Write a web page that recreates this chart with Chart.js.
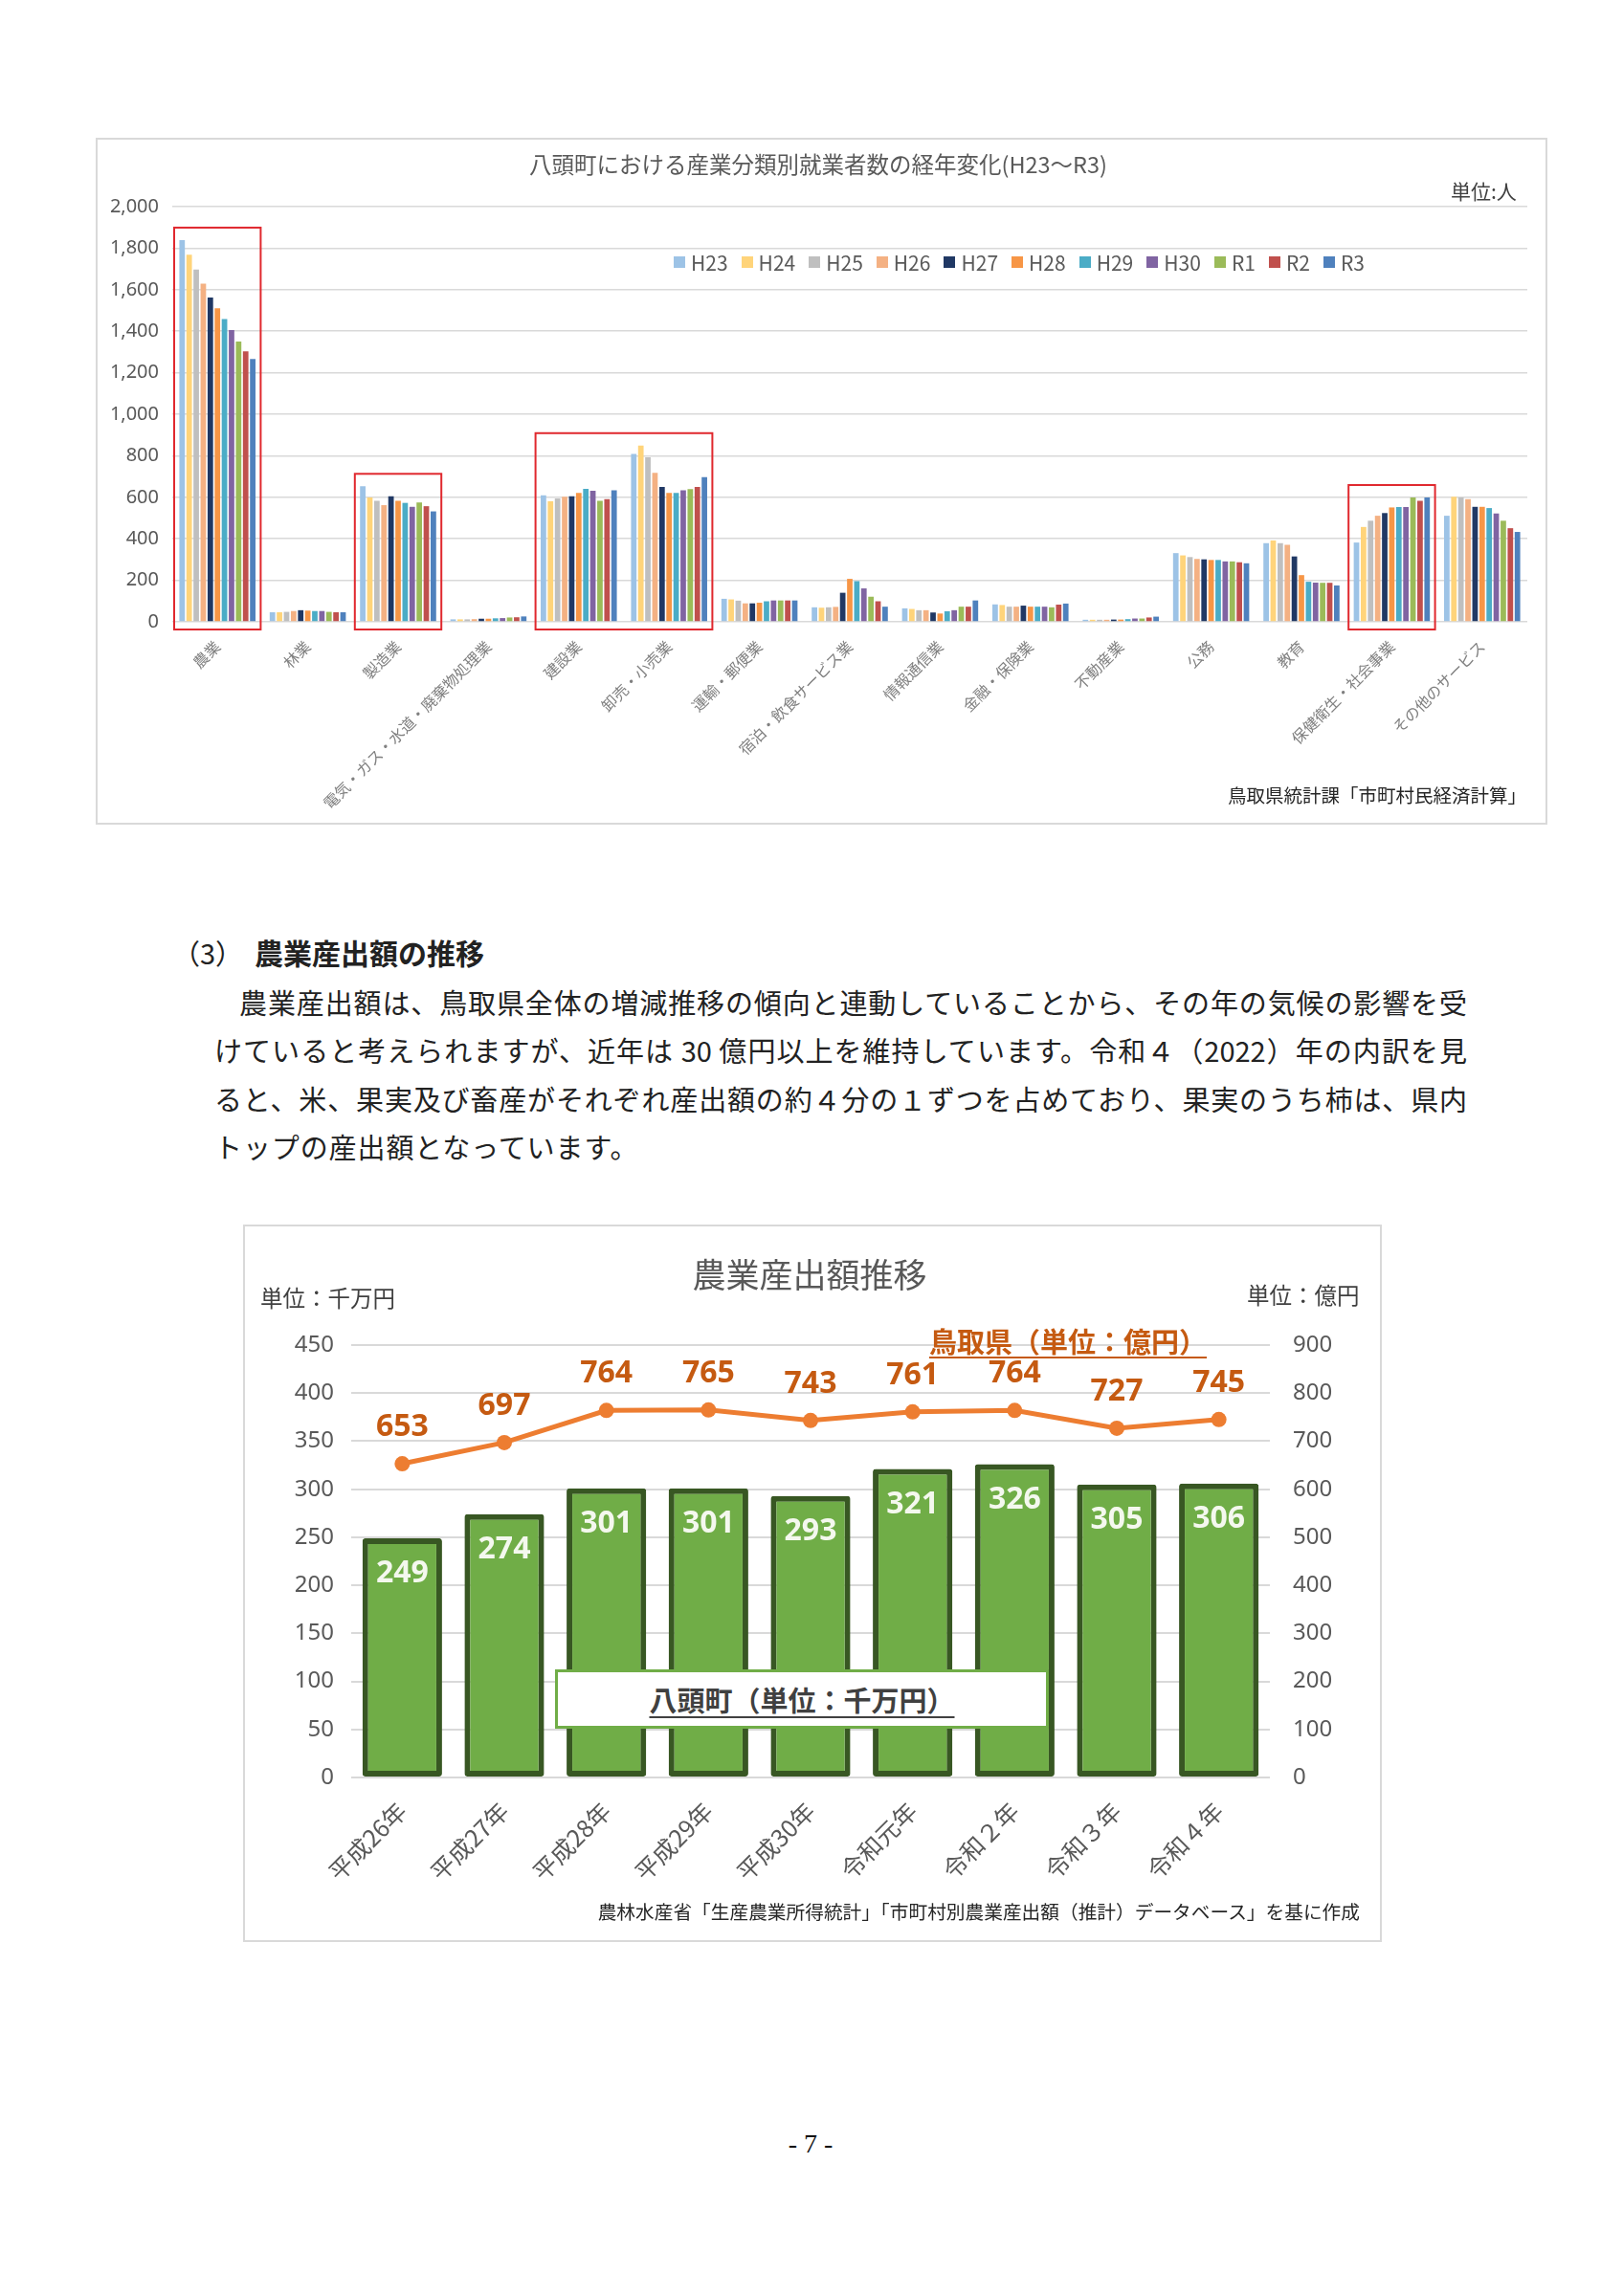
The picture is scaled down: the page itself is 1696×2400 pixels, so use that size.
<!DOCTYPE html>
<html lang="ja">
<head>
<meta charset="utf-8">
<script src="https://cdn.jsdelivr.net/npm/chart.js@4.4.1/dist/chart.umd.min.js"></script>
<style>
  body { margin: 0; background: #fff; }
  #page { position: relative; width: 1696px; height: 2400px; font-family: "Noto Sans CJK JP", sans-serif; color: #222; }
  .abs { position: absolute; white-space: nowrap; }
  .box { position: absolute; box-sizing: border-box; border: 2px solid #d9d9d9; }
  .wrap { position: absolute; }
  .legend { display: flex; align-items: center; font-size: 21px; color: #595959; }
  .legend span.item { display: flex; align-items: center; margin-right: 14px; }
  .legend i { display: inline-block; width: 12px; height: 12px; margin-right: 6px; }
  .line { position: absolute; font-size: 29px; line-height: 40px; height: 40px; text-align: justify; text-align-last: justify; white-space: nowrap; }
</style>
</head>
<body>
<div id="page">

  <!-- 就業者数グラフ -->
  <div class="box" style="left:100px;top:144px;width:1517px;height:718px"></div>
  <div class="wrap" style="left:102px;top:146px;width:1513px;height:714px"><canvas id="emp"></canvas></div>
  <div class="abs" style="left:535px;top:154px;width:640px;text-align:center;font-size:23.5px;color:#595959">八頭町における産業分類別就業者数の経年変化(H23～R3)</div>
  <div class="abs" style="left:1516px;top:184px;font-size:21px;color:#404040">単位:人</div>
  <div class="abs legend" id="legend" style="left:704px;top:261px;height:26px"></div>
  <div class="abs" style="left:1283px;top:816px;font-size:19.5px;color:#262626">鳥取県統計課「市町村民経済計算」</div>

  <!-- 本文 -->
  <div class="abs" style="left:180px;top:975px;font-size:29px;line-height:40px">（3）</div>
  <div class="abs" style="left:266px;top:975px;font-size:30px;line-height:40px;font-weight:bold">農業産出額の推移</div>
  <div class="line" style="left:250px;top:1027px;width:1283px">農業産出額は、鳥取県全体の増減推移の傾向と連動していることから、その年の気候の影響を受</div>
  <div class="line" style="left:224px;top:1077px;width:1309px">けていると考えられますが、近年は 30 億円以上を維持しています。令和４（2022）年の内訳を見</div>
  <div class="line" style="left:224px;top:1128px;width:1309px">ると、米、果実及び畜産がそれぞれ産出額の約４分の１ずつを占めており、果実のうち柿は、県内</div>
  <div class="abs" style="left:224px;top:1178px;font-size:29px;line-height:40px;letter-spacing:0.9px">トップの産出額となっています。</div>

  <!-- 農業産出額グラフ -->
  <div class="box" style="left:254px;top:1280px;width:1190px;height:750px"></div>
  <div class="wrap" style="left:256px;top:1282px;width:1186px;height:746px"><canvas id="agri"></canvas></div>
  <div class="abs" style="left:646px;top:1305px;width:400px;text-align:center;font-size:35px;color:#595959">農業産出額推移</div>
  <div class="abs" style="left:272px;top:1339px;font-size:23.5px;color:#404040">単位：千万円</div>
  <div class="abs" style="left:1303px;top:1336px;font-size:23.5px;color:#404040">単位：億円</div>
  <div class="abs" style="left:971px;top:1380px;font-size:29px;font-weight:bold;color:#c55a11;text-decoration:underline;text-underline-offset:4px">鳥取県（単位：億円）</div>
  <div class="abs" style="left:580px;top:1745px;width:516px;height:62px;box-sizing:border-box;border:3px solid #70ad47;background:#fff;text-align:center;font-size:29px;font-weight:bold;line-height:56px;color:#404040"><span style="text-decoration:underline;text-underline-offset:5px">八頭町（単位：千万円）</span></div>
  <div class="abs" style="right:275px;top:1983px;font-size:19.7px;color:#262626">農林水産省「生産農業所得統計」「市町村別農業産出額（推計）データベース」を基に作成</div>

  <div class="abs" style="left:747px;top:2225px;width:200px;text-align:center;font-family:'Liberation Serif',serif;font-size:28px;color:#111">- 7 -</div>
</div>

<script>
// 就業者数（人）
const industries = ["農業", "林業", "製造業", "電気・ガス・水道・廃棄物処理業", "建設業", "卸売・小売業", "運輸・郵便業",
  "宿泊・飲食サービス業", "情報通信業", "金融・保険業", "不動産業", "公務", "教育", "保健衛生・社会事業", "その他のサービス"];
const years = ["H23", "H24", "H25", "H26", "H27", "H28", "H29", "H30", "R1", "R2", "R3"];
const h23 = [1839, 46, 653, 12, 610, 809, 111, 70, 65, 84, 10, 331, 379, 382, 511];
const h24 = [1768, 46, 599, 12, 581, 849, 108, 68, 62, 81, 10, 320, 392, 457, 602];
const h25 = [1697, 48, 583, 12, 594, 793, 102, 70, 56, 73, 10, 312, 379, 487, 599];
const h26 = [1629, 52, 562, 13, 602, 718, 89, 72, 56, 73, 10, 303, 371, 511, 591];
const h27 = [1562, 56, 605, 15, 605, 650, 89, 140, 45, 78, 11, 301, 315, 524, 554];
const h28 = [1510, 54, 583, 15, 621, 621, 92, 207, 40, 73, 11, 298, 225, 551, 554];
const h29 = [1459, 52, 573, 17, 640, 621, 99, 196, 51, 73, 13, 298, 193, 553, 548];
const h30 = [1406, 52, 554, 18, 631, 634, 103, 161, 56, 73, 16, 291, 189, 553, 522];
const r1 = [1350, 48, 575, 21, 583, 639, 103, 121, 73, 70, 16, 291, 188, 599, 487];
const r2 = [1303, 46, 557, 22, 591, 650, 103, 99, 73, 83, 21, 287, 188, 583, 451];
const r3 = [1266, 46, 532, 26, 634, 697, 103, 73, 103, 88, 25, 282, 175, 599, 433];
const yearColors = ["#9dc3e6", "#ffd47a", "#bfbfbf", "#f4b183", "#203864", "#f79646", "#4bacc6", "#8064a2", "#9bbb59", "#c0504d", "#4f81bd"];
// 赤枠で囲む業種（先頭・末尾のインデックス）
const highlight = [[0, 0], [2, 2], [4, 5], [13, 13]];

// 農業産出額
const fiscalYears = ["平成26年", "平成27年", "平成28年", "平成29年", "平成30年", "令和元年", "令和２年", "令和３年", "令和４年"];
const yazu = [249, 274, 301, 301, 293, 321, 326, 305, 306];      // 千万円
const tottori = [653, 697, 764, 765, 743, 761, 764, 727, 745];   // 億円

const empSeries = [h23, h24, h25, h26, h27, h28, h29, h30, r1, r2, r3];

const legend = document.getElementById("legend");
years.forEach((y, i) => {
  const s = document.createElement("span");
  s.className = "item";
  s.innerHTML = '<i style="background:' + yearColors[i] + '"></i>' + y;
  legend.appendChild(s);
});

const redBoxes = {
  id: "redBoxes",
  afterDatasetsDraw(chart) {
    const { ctx, scales: { x, y } } = chart;
    const w = x.getPixelForValue(1) - x.getPixelForValue(0);
    ctx.save();
    ctx.strokeStyle = "#e0282e";
    ctx.lineWidth = 2;
    highlight.forEach(([a, b]) => {
      let max = 0;
      empSeries.forEach(s => { for (let i = a; i <= b; i++) max = Math.max(max, s[i]); });
      const top = y.getPixelForValue(max) - 13;
      const bottom = y.getPixelForValue(0) + 8;
      const left = x.getPixelForValue(a) - w * 0.5 + 2;
      const right = x.getPixelForValue(b) + w * 0.5 - 2;
      ctx.strokeRect(left, top, right - left, bottom - top);
    });
    ctx.restore();
  }
};

new Chart(document.getElementById("emp"), {
  type: "bar",
  data: {
    labels: industries,
    datasets: empSeries.map((s, i) => ({
      label: years[i],
      data: s,
      backgroundColor: yearColors[i],
      categoryPercentage: 0.86,
      barPercentage: 0.78
    }))
  },
  options: {
    responsive: true,
    maintainAspectRatio: false,
    animation: false,
    layout: { padding: { top: 70, right: 19, left: 0, bottom: 0 } },
    plugins: { legend: { display: false }, tooltip: { enabled: false } },
    scales: {
      x: {
        grid: { display: false },
        border: { display: false },
        ticks: {
          autoSkip: false, minRotation: 45, maxRotation: 45, padding: 8,
          color: "#808080", font: { size: 16, family: "'Noto Sans CJK JP'" }
        },
        afterFit: s => { s.height = 210; }
      },
      y: {
        min: 0, max: 2000,
        grid: { color: "#d9d9d9", lineWidth: 1.5, drawTicks: false },
        border: { display: false },
        ticks: {
          stepSize: 200, padding: 14, color: "#595959",
          font: { size: 20, family: "'Noto Sans', 'Noto Sans CJK JP'" },
          callback: v => v.toLocaleString("en-US")
        },
        afterFit: s => { s.width = 78; }
      }
    }
  },
  plugins: [redBoxes]
});

const valueLabels = {
  id: "valueLabels",
  afterDatasetsDraw(chart) {
    const ctx = chart.ctx;
    ctx.save();
    ctx.textAlign = "center";
    ctx.textBaseline = "middle";
    ctx.font = "bold 32px 'Open Sans', 'Noto Sans'";
    ctx.fillStyle = "#f4f8ee";
    chart.getDatasetMeta(1).data.forEach((el, i) => {
      ctx.fillText(yazu[i], el.x, el.y + 37);
    });
    ctx.fillStyle = "#c55a11";
    chart.getDatasetMeta(0).data.forEach((el, i) => {
      ctx.fillText(tottori[i], el.x, el.y - 38);
    });
    ctx.restore();
  }
};

new Chart(document.getElementById("agri"), {
  data: {
    labels: fiscalYears,
    datasets: [
      {
        type: "line",
        label: "鳥取県（単位：億円）",
        data: tottori,
        yAxisID: "y1",
        order: 0,
        borderColor: "#ed7d31",
        borderWidth: 5,
        pointRadius: 8,
        pointBackgroundColor: "#ed7d31",
        pointBorderWidth: 0,
        tension: 0
      },
      {
        type: "bar",
        label: "八頭町（単位：千万円）",
        data: yazu,
        yAxisID: "y",
        order: 1,
        backgroundColor: "#70ad47",
        borderColor: "#385723",
        borderWidth: 6,
        borderSkipped: false,
        borderRadius: 3,
        categoryPercentage: 1,
        barPercentage: 0.78
      }
    ]
  },
  options: {
    responsive: true,
    maintainAspectRatio: false,
    animation: false,
    layout: { padding: { top: 124, right: 0, left: 0, bottom: 0 } },
    plugins: { legend: { display: false }, tooltip: { enabled: false } },
    scales: {
      x: {
        grid: { display: false },
        border: { display: false },
        ticks: {
          autoSkip: false, minRotation: 45, maxRotation: 45, padding: 12,
          color: "#595959", font: { size: 25, family: "'Noto Sans CJK JP'" }
        },
        afterFit: s => { s.height = 170; }
      },
      y: {
        position: "left",
        min: 0, max: 450,
        grid: { color: "#d9d9d9", lineWidth: 2, drawTicks: false },
        border: { display: false },
        ticks: { stepSize: 50, padding: 18, color: "#595959", font: { size: 24, family: "'Noto Sans'" } },
        afterFit: s => { s.width = 111; }
      },
      y1: {
        position: "right",
        min: 0, max: 900,
        grid: { display: false, drawTicks: false },
        border: { display: false },
        ticks: { stepSize: 100, padding: 24, color: "#595959", font: { size: 24, family: "'Noto Sans'" } },
        afterFit: s => { s.width = 115; }
      }
    }
  },
  plugins: [valueLabels]
});
</script>
</body>
</html>
